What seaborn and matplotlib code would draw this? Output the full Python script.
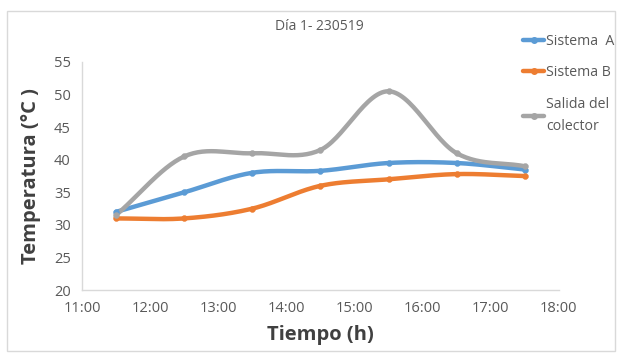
import numpy as np
import pandas as pd
import matplotlib
matplotlib.use("Agg")
import matplotlib.pyplot as plt
import seaborn as sns
from matplotlib.lines import Line2D
from matplotlib.patches import Rectangle

# Data (hours as decimal)
horas = [11.5, 12.5, 13.5, 14.5, 15.5, 16.5, 17.5]
sistema_a = [32.0, 35.0, 38.0, 38.3, 39.5, 39.5, 38.5]
sistema_b = [31.0, 31.0, 32.5, 36.0, 37.0, 37.8, 37.5]
salida = [31.5, 40.5, 41.0, 41.5, 50.5, 41.0, 39.0]
series_names = ["Sistema  A", "Sistema B", "Salida del\ncolector"]
colores = ["#5b9bd5", "#ed7d31", "#a5a5a5"]
x_ticks = [11, 12, 13, 14, 15, 16, 17, 18]
x_ticklabels = ["11:00", "12:00", "13:00", "14:00", "15:00", "16:00", "17:00", "18:00"]
y_ticks = [20, 25, 30, 35, 40, 45, 50, 55]


def catmull_rom(xs, ys, n=30):
    P = np.column_stack([xs, ys]).astype(float)
    P = np.vstack([2 * P[0] - P[1], P, 2 * P[-1] - P[-2]])
    out = []
    for i in range(1, len(P) - 2):
        p0, p1, p2, p3 = P[i - 1], P[i], P[i + 1], P[i + 2]
        t = np.linspace(0, 1, n, endpoint=(i == len(P) - 3))[:, None]
        pt = 0.5 * ((2 * p1) + (-p0 + p2) * t + (2 * p0 - 5 * p1 + 4 * p2 - p3) * t ** 2
                    + (-p0 + 3 * p1 - 3 * p2 + p3) * t ** 3)
        out.append(pt)
    out = np.vstack(out)
    return out[:, 0], out[:, 1]


sns.set_theme(style="white")
plt.rcParams["font.family"] = ["Open Sans", "DejaVu Sans"]

fig = plt.figure(figsize=(6.21, 3.56), dpi=100)
ax = fig.add_axes([0.132, 0.185, 0.768, 0.641])

for name, vals, c in zip(series_names, [sistema_a, sistema_b, salida], colores):
    sx, sy = catmull_rom(horas, vals)
    smooth = pd.DataFrame({"x": sx, "y": sy})
    sns.lineplot(data=smooth, x="x", y="y", ax=ax, color=c, linewidth=3.2,
                 sort=False, estimator=None)
    pts = pd.DataFrame({"x": horas, "y": vals})
    sns.scatterplot(data=pts, x="x", y="y", ax=ax, color=c, s=18, edgecolor=c, zorder=3)

ax.set_xlim(11, 18)
ax.set_ylim(20, 55)
ax.set_xticks(x_ticks)
ax.set_xticklabels(x_ticklabels)
ax.set_yticks(y_ticks)
ax.tick_params(axis="both", length=0, labelsize=10.5, labelcolor="#595959", pad=8)
for s in ["top", "right"]:
    ax.spines[s].set_visible(False)
for s in ["left", "bottom"]:
    ax.spines[s].set_color("#d9d9d9")
    ax.spines[s].set_linewidth(1.0)

ax.set_xlabel("Tiempo (h)", fontsize=14.5, fontweight="bold", color="#404040", labelpad=6)
ax.set_ylabel("Temperatura (°C )", fontsize=14.5, fontweight="bold", color="#404040", labelpad=6)
ax.yaxis.set_label_coords(-0.085, 0.5)

fig.text(0.515, 0.925, "Día 1- 230519", ha="center", va="center", fontsize=10, color="#595959")

handles = [Line2D([0], [0], color=c, lw=3.2, marker="o", markersize=4) for c in colores]
leg = fig.legend(handles, series_names, loc="upper left", bbox_to_anchor=(0.822, 0.94),
                 frameon=False, fontsize=10.2, labelspacing=1.15, handlelength=1.5,
                 handletextpad=0.1, labelcolor="#595959")
for t in leg.get_texts():
    t.set_linespacing(1.7)

fig.patches.append(Rectangle((0.012, 0.015), 0.978, 0.955, transform=fig.transFigure,
                             fill=False, edgecolor="#d9d9d9", linewidth=1.0))

fig.savefig("out.png", dpi=100)
